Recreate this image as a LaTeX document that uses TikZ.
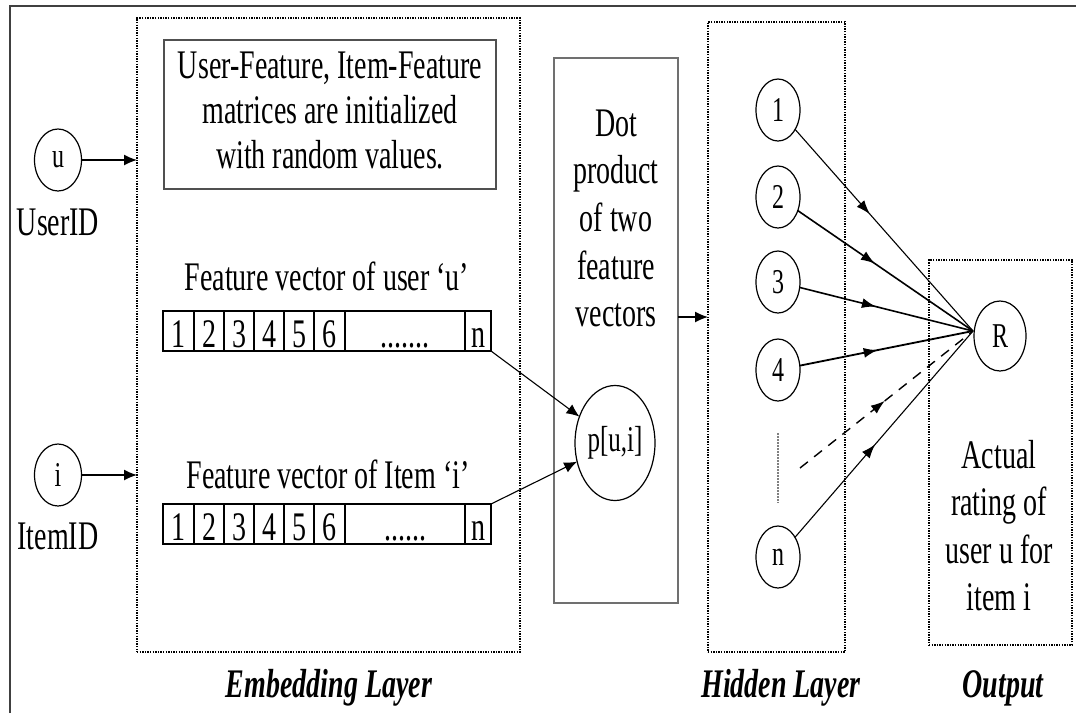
\documentclass[tikz,border=0pt]{standalone}
\usepackage{fontspec}
\setmainfont{Liberation Serif}
\usepackage{graphicx}
\usetikzlibrary{shapes.geometric,arrows.meta,decorations.markings}

% text is set slightly tall and narrow
\newcommand\talltext[1]{\scalebox{1}[1.45]{#1}}
\newcommand\tallblock[1]{\scalebox{1}[1.45]{\begin{tabular}{@{}c@{}}#1\end{tabular}}}

\definecolor{framegray}{HTML}{404040}
\definecolor{boxgray}{HTML}{505050}
\definecolor{dotgray}{HTML}{707070}

\begin{document}
\begin{tikzpicture}[x=1pt,y=-1pt,
  every node/.style={inner sep=0pt, outer sep=0pt},
  txt/.style={font=\fontsize{28}{31}\selectfont},
  stacktxt/.style={font=\fontsize{28}{32.8}\selectfont},
  cirtxt/.style={font=\fontsize{24}{26}\selectfont},
  layerlabel/.style={font=\fontsize{28}{30}\selectfont\bfseries\itshape},
  dotbox/.style={draw, line width=1.1pt, dash pattern=on 1.4pt off 1.2pt, rectangle},
  unit/.style={draw, ellipse, line width=1.2pt, minimum width=44pt, minimum height=62pt, cirtxt},
  arr/.style={-{Latex[length=13pt,width=11pt]}, line width=1.3pt},
  veccell/.style={txt, anchor=base},
  midarrow/.style={postaction={decorate}, decoration={markings,
      mark=at position #1 with {\arrow{Latex[length=14pt,width=10pt]}}}},
]
\useasboundingbox (0,0) rectangle (1076,713);

% outer frame (left and top edges)
\draw[framegray, line width=2pt] (9.5,713) -- (9.5,6) -- (1076,6);

% ---------------- inputs ----------------
\node[unit, minimum width=47pt] (u) at (58,160) {\talltext{u}};
\node[txt] (uid) at (58,222) {\talltext{UserID}};
\node[unit, minimum width=47pt] (i) at (58,475) {\talltext{i}};
\node[txt] (iid) at (58,536) {\talltext{ItemID}};

% ---------------- embedding layer ----------------
\node[dotbox, minimum width=383pt, minimum height=634pt] (emb) at (328.5,335) {};
\node[layerlabel] (emblabel) at (329,688) {\talltext{Embedding Layer}};

\draw[arr] (u) -- (u -| emb.west);
\draw[arr] (i) -- (i -| emb.west);

\node[draw=boxgray, line width=2pt, minimum width=332pt, minimum height=149pt, txt]
  (init) at (330,114.5)
  {\tallblock{User-Feature, Item-Feature\\matrices are initialized\\with random values.}};

% feature vector of user u
\node[txt, anchor=base] (ulabel) at (327,290) {\talltext{Feature vector of user ‘u’}};
\node[draw, line width=1.5pt, minimum width=328pt, minimum height=40pt, anchor=north west]
  (uvec) at (163,311) {};
\foreach \x in {194,224,254,284,314,345,465}
  \draw[line width=1.2pt] (\x,311) -- (\x,351);
\foreach \d/\x in {1/178.5,2/209,3/239,4/269,5/299,6/329.5}
  \node[veccell] (uc\d) at (\x,347) {\talltext{\d}};
\node[veccell] (ucdots) at (405,347) {\talltext{.......}};
\node[veccell] (ucn) at (478,347) {\talltext{n}};

% feature vector of item i
\node[txt, anchor=base] (ilabel) at (328,488) {\talltext{Feature vector of Item ‘i’}};
\node[draw, line width=1.5pt, minimum width=328pt, minimum height=40pt, anchor=north west]
  (ivec) at (163,504) {};
\foreach \x in {194,224,254,284,314,345,465}
  \draw[line width=1.2pt] (\x,504) -- (\x,544);
\foreach \d/\x in {1/178.5,2/209,3/239,4/269,5/299,6/329.5}
  \node[veccell] (ic\d) at (\x,540) {\talltext{\d}};
\node[veccell] (icdots) at (405,540) {\talltext{......}};
\node[veccell] (icn) at (478,540) {\talltext{n}};

% ---------------- dot product ----------------
\node[draw=dotgray, line width=2.5pt, minimum width=124pt, minimum height=545pt] (dot) at (616,330.5) {};
\node[stacktxt] (dottxt) at (616,222) {\tallblock{Dot\\product\\of two\\feature\\vectors}};
\node[draw, ellipse, line width=1.2pt, minimum width=80pt, minimum height=115pt, font=\fontsize{25}{27}\selectfont]
  (p) at (615,443) {\talltext{p[u,i]}};

\draw[arr, line width=1.1pt] (uvec.south east) -- (p);
\draw[arr, line width=1.1pt] (ivec.north east) -- (p);

% ---------------- hidden layer ----------------
\node[dotbox, minimum width=137pt, minimum height=630pt] (hid) at (776.5,337) {};
\node[layerlabel] (hidlabel) at (781,688) {\talltext{Hidden Layer}};

\draw[arr] ([yshift=13.5pt]dot.east) -- ([yshift=13.5pt]dot.east -| hid.west);

\node[unit] (h1) at (778,110) {\talltext{1}};
\node[unit] (h2) at (778,197) {\talltext{2}};
\node[unit] (h3) at (778,282) {\talltext{3}};
\node[unit] (h4) at (778,370) {\talltext{4}};
\node[unit] (hn) at (778,557) {\talltext{n}};
\draw[gray, line width=1.2pt, dash pattern=on 1.5pt off 1.5pt] (778,433) -- (778,503);

% ---------------- output ----------------
\node[dotbox, minimum width=143pt, minimum height=385pt] (out) at (1000.5,452.5) {};
\node[layerlabel] (outlabel) at (1003,688) {\talltext{Output}};
\node[unit, minimum width=52pt, minimum height=70pt] (R) at (1000,336) {\talltext{R}};
\coordinate (conv) at (973,331);
\node[stacktxt] (outtxt) at (999,530) {\tallblock{Actual\\rating of\\user u for\\item i}};

% hidden units feed the rating
\draw[line width=1.1pt, midarrow=0.42] (h1) -- (conv);
\draw[line width=1.6pt, midarrow=0.44] (h2) -- (conv);
\draw[line width=1.6pt, midarrow=0.44] (h3) -- (conv);
\draw[line width=1.8pt, midarrow=0.45] (h4) -- (conv);
\coordinate (dstart) at (800,468);
\draw[line width=1.4pt, dash pattern=on 10pt off 8pt, midarrow=0.49] (dstart) -- (conv);
\draw[line width=1.1pt, midarrow=0.45] (hn) -- (conv);
\end{tikzpicture}
\end{document}
